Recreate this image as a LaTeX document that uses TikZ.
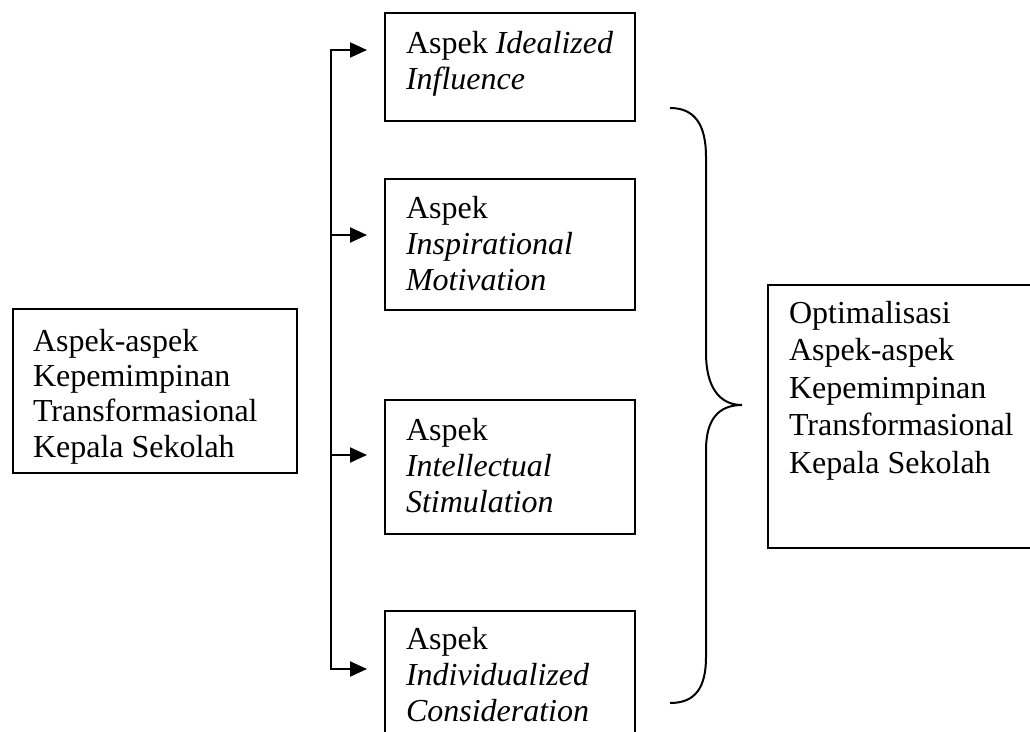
\documentclass[tikz,border=0pt]{standalone}
\usepackage{fontspec}
\setmainfont{Liberation Serif}
\usetikzlibrary{positioning,arrows.meta}

\newcommand{\boxtext}[3]{\parbox[t][#2][t]{#1}{\raggedright\strut #3}}

\begin{document}
\begin{tikzpicture}[x=1pt, y=-1pt, box/.style={rectangle, draw, line width=2pt, anchor=north west, inner xsep=21pt, font=\fontsize{32}{36}\selectfont}, arr/.style={-{Triangle[length=17pt, width=15pt]}, line width=2pt}, brace/.style={line width=2pt}]
      \useasboundingbox (0,0) rectangle (1030,731);
      \clip (0,0) rectangle (1030,731);

      \node [box, inner xsep=20pt, inner ysep=17.5pt, font=\fontsize{32}{35.3}\selectfont] (kepala) at (12,308) {\boxtext{244pt}{129pt}{Aspek-aspek\\ Kepemimpinan\\ Transformasional\\ Kepala Sekolah}};

      \node [box, inner ysep=14.8pt] (ideal) at (384,12) {\boxtext{208pt}{78.4pt}{Aspek~\textit{Idealized}\\ \textit{Influence}}};

      \node [box, inner ysep=13.8pt, below=56pt of ideal.south west, anchor=north west] (inspi) {\boxtext{208pt}{103.4pt}{Aspek\\ \textit{Inspirational}\\ \textit{Motivation}}};

      \node [box, inner ysep=14.8pt, below=88pt of inspi.south west, anchor=north west] (intel) {\boxtext{208pt}{104.4pt}{Aspek\\ \textit{Intellectual}\\ \textit{Stimulation}}};

      \node [box, inner ysep=12.8pt, below=75pt of intel.south west, anchor=north west] (indiv) {\boxtext{208pt}{124.4pt}{Aspek\\ \textit{Individualized}\\ \textit{Consideration}}};

      \node [box, inner ysep=11.75pt, font=\fontsize{32}{37.5}\selectfont] (optimal) at (767,284) {\boxtext{238pt}{239.5pt}{Optimalisasi\\ Aspek-aspek\\ Kepemimpinan\\ Transformasional\\ Kepala Sekolah}};

      % spine and arrows
      \coordinate (s1) at (331,50);
      \coordinate (s2) at (331,235);
      \coordinate (s3) at (331,455);
      \coordinate (s4) at (331,669);

      \draw [line width=2pt, line cap=rect] (s1) -- (s4);

      \foreach \s/\b in {s1/ideal, s2/inspi, s3/intel, s4/indiv}
        \draw [arr, shorten >=17pt] (\s) -- (\b.west |- \s);

      % brace
      \coordinate (bt) at (670,108);
      \coordinate (bm) at (742,405);
      \coordinate (bb) at (670,703);

      \draw [brace] (bt) .. controls (695,108) and (706,125) .. (706,157) -- (706,353) .. controls (706,385) and (718,405) .. (bm) .. controls (718,405) and (706,420) .. (706,450) -- (706,657) .. controls (706,688) and (695,703) .. (bb);
    \end{tikzpicture}
\end{document}
